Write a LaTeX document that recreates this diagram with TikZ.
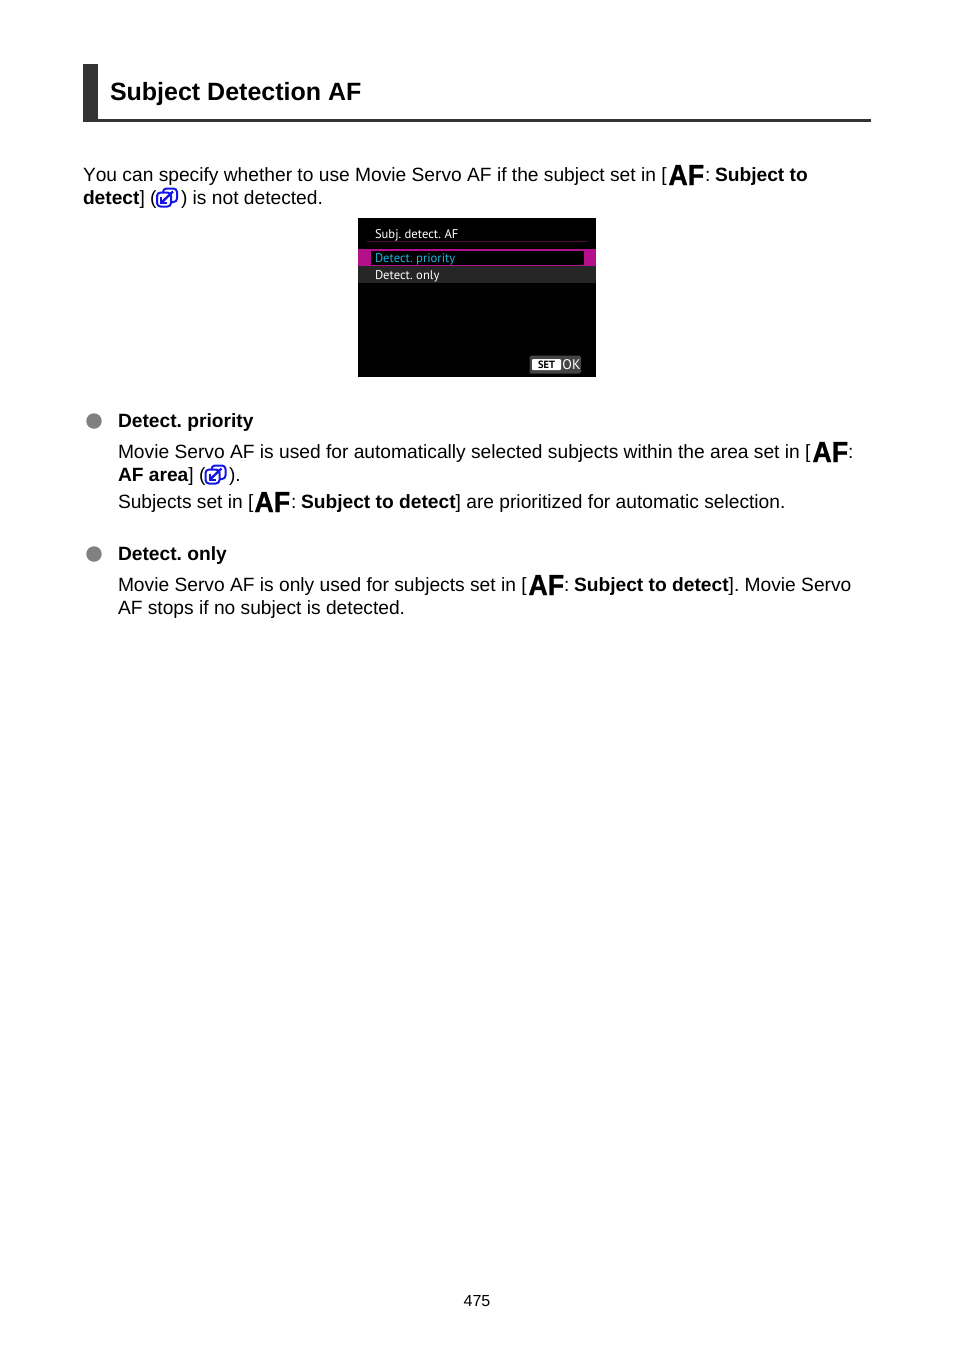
\documentclass[tikz,border=0pt]{standalone}
\usepackage{fontspec}
\setmainfont[Kerning=Off]{Liberation Sans}
\newfontfamily\screenfont{PT Sans}
\newfontfamily\affont[BoldFeatures={FakeBold=1.2,FakeStretch=0.92}]{Liberation Sans}
\frenchspacing
\definecolor{barc}{HTML}{333333}
\definecolor{linkc}{HTML}{1414E6}
\definecolor{bulc}{HTML}{808080}
\definecolor{magc}{HTML}{B4108C}
\definecolor{dmagc}{HTML}{4A0A3C}
\definecolor{cyanc}{HTML}{1EB4DC}
\definecolor{rowc}{HTML}{262626}
\definecolor{setc}{HTML}{444444}
\newcommand{\bodyf}{\fontsize{19.2}{24}\selectfont}
\newcommand{\titlef}{\fontsize{25}{30}\selectfont\bfseries}
\tikzset{
  x=1pt,y=-1pt,
  txt/.style={anchor=base west,inner sep=0pt,outer sep=0pt,font=\bodyf,text=black},
  ttl/.style={anchor=base west,inner sep=0pt,outer sep=0pt,font=\titlef,text=black},
  head/.style={txt,font=\bodyf\bfseries},
  bul/.style={circle,fill=bulc,minimum size=15.5pt,inner sep=0pt},
  scr/.style={anchor=base west,inner sep=0pt,outer sep=0pt,font=\screenfont\fontsize{12.6}{14}\selectfont},
  afi/.style={anchor=base west,inner sep=0pt,outer sep=0pt,font=\affont\fontsize{29}{31}\selectfont\bfseries,text=black},
  pics/linkicon/.style={code={
    \draw[linkc,line width=2pt,rounded corners=3.5pt] (-4,-5.5) -- (-4,-9) -- (10,-9) -- (10,4.5) -- (4,4.5);
    \draw[linkc,line width=2pt,fill=white,rounded corners=3.5pt] (-10,-5) rectangle (4,9);
    \draw[linkc,line width=2.4pt] (6,-6) -- (-5.5,5);
    \draw[linkc,line width=2pt] (-6,-1) -- (-6,5) -- (0,5);
  }}
}
\begin{document}
\begin{tikzpicture}
\useasboundingbox (0,0) rectangle (954,1345);
% heading
\fill[barc] (83,64) rectangle (98,122);
\fill[barc] (83,119) rectangle (871,122);
\node[ttl] (title) at (110,100) {Subject Detection AF};
% intro
\node[txt] (l1a) at (83,181) {You can specify whether to use Movie Servo AF if the subject set in [};
\node[afi] (af1) at (668.5,185) {AF};
\node[txt] (l1b) at (705,181) {:};
\node[head] (l1c) at (715,181) {Subject to};
\node[head] (l2a) at (83,204) {detect};
\node[txt] (l2b) at (l2a.base east) {] (};
\pic at (167,197.5) {linkicon};
\node[txt] (l2c) at (181,204) {) is not detected.};
% screen
\fill[black] (358,218) rectangle (596,377);
\fill[dmagc] (367,241) rectangle (588,242);
\fill[magc] (358,249) rectangle (596,266);
\fill[black] (371,250.5) rectangle (584,264.5);
\fill[rowc] (358,266) rectangle (596,283);
\node[scr,text=white] (s1) at (375,238) {Subj. detect. AF};
\node[scr,text=cyanc] (s2) at (375,262) {Detect. priority};
\node[scr,text=white] (s3) at (375,279) {Detect. only};
\fill[setc,rounded corners=1.5pt] (529.5,355.5) rectangle (581,373.5);
\fill[white,rounded corners=1pt] (532,359) rectangle (561,370);
\node[anchor=center,inner sep=0pt,font=\screenfont\bfseries\fontsize{10.5}{10}\selectfont,text=black] (setk) at (546.5,364.7) {SET};
\node[anchor=center,inner sep=0pt,font=\screenfont\fontsize{14}{14}\selectfont,text=white] (okk) at (571.5,364.7) {OK};
% detect priority
\node[bul] (b1) at (94,421) {};
\node[head] (h1) at (118,427) {Detect. priority};
\node[txt] (p1a) at (118,458) {Movie Servo AF is used for automatically selected subjects within the area set in [};
\node[afi] (af2) at (812.5,462) {AF};
\node[txt] (p1b) at (848,458) {:};
\node[head] (p2a) at (118,481) {AF area};
\node[txt] (p2b) at (p2a.base east) {] (};
\pic at (215.5,474.5) {linkicon};
\node[txt] (p2c) at (229,481) {).};
\node[txt] (p3a) at (118,508) {Subjects set in [};
\node[afi] (af3) at (254.5,512) {AF};
\node[txt] (p3b) at (291,508) {:};
\node[head] (p3c) at (301,508) {Subject to detect};
\node[txt] (p3d) at (p3c.base east) {] are prioritized for automatic selection.};
% detect only
\node[bul] (b2) at (94,554) {};
\node[head] (h2) at (118,560) {Detect. only};
\node[txt] (q1a) at (118,591) {Movie Servo AF is only used for subjects set in [};
\node[afi] (af4) at (528.5,595) {AF};
\node[txt] (q1b) at (564,591) {:};
\node[head] (q1c) at (574,591) {Subject to detect};
\node[txt] (q1d) at (q1c.base east) {]. Movie Servo};
\node[txt] (q2) at (118,614) {AF stops if no subject is detected.};
% page number
\node[anchor=base,inner sep=0pt,font=\fontsize{16}{18}\selectfont] (pg) at (477,1306) {475};
\end{tikzpicture}
\end{document}
